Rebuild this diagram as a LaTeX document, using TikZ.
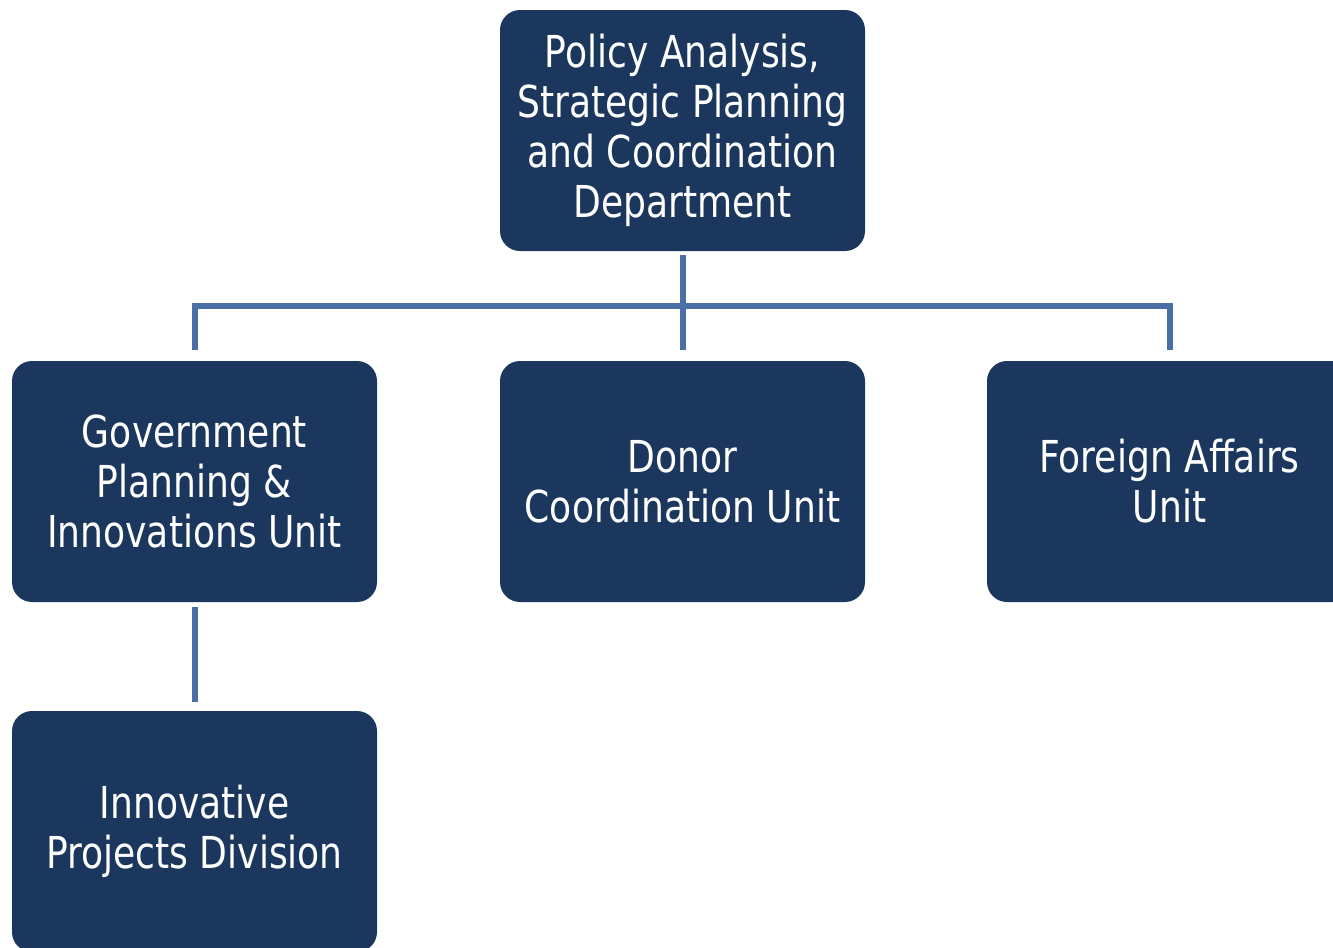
\documentclass[tikz,border=0pt]{standalone}
\usepackage{fontspec}
\setmainfont[FakeStretch=0.82]{DejaVu Sans}
\definecolor{navy}{HTML}{1B375E}
\definecolor{linkblue}{HTML}{4A6FA5}
\begin{document}
\begin{tikzpicture}[x=0.75pt,y=-0.75pt,
	unit/.style={fill=navy,rounded corners=15pt,minimum width=273.75pt,minimum height=180.75pt,
		text=white,align=center,font=\fontsize{33}{37.5}\selectfont,inner sep=0pt},
	link/.style={draw=linkblue,line width=4.5pt}]
	\useasboundingbox (0,0) rectangle (1333,947);
	\node[unit] (dept) at (682.5,130.5) {Policy Analysis,\\Strategic Planning\\and Coordination\\Department};
	\node[unit] (gov) at (194.5,481.5) {Government\\Planning \&\\Innovations Unit};
	\node[unit] (donor) at (682.5,481.5) {Donor\\Coordination Unit};
	\node[unit] (foreign) at (1169.5,481.5) {Foreign Affairs\\Unit};
	\node[unit] (innov) at (194.5,831.5) {Innovative\\Projects Division};
	\coordinate (bus) at (682.5,306);
	\draw[link,shorten <=3pt,shorten >=8.25pt] (dept) -- (donor);
	\draw[link] ([yshift=8.25pt]gov.north) |- (bus) -| ([yshift=8.25pt]foreign.north);
	\draw[link,shorten <=3.75pt,shorten >=6.75pt] (gov) -- (innov);
\end{tikzpicture}
\end{document}
